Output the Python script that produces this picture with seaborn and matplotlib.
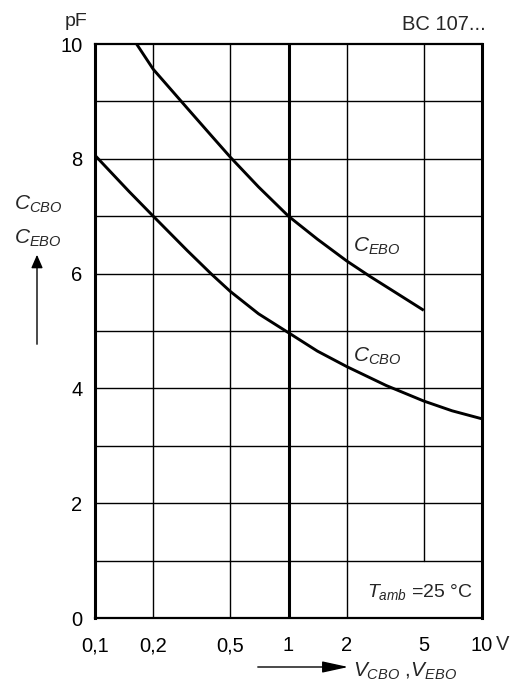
import matplotlib
matplotlib.use("Agg")
import matplotlib.pyplot as plt
import seaborn as sns
import pandas as pd
from matplotlib import font_manager

# ---- data ----
v_ebo = [0.164, 0.2, 0.3, 0.4, 0.5, 0.7, 1.0, 1.41, 2.0, 2.64, 3.5, 5.0]
c_ebo = [10.0, 9.56, 8.88, 8.40, 8.03, 7.51, 7.0, 6.60, 6.22, 5.95, 5.69, 5.36]

v_cbo = [0.1, 0.15, 0.2, 0.3, 0.4, 0.5, 0.7, 1.0, 1.41, 2.0, 3.2, 5.0, 7.0, 10.0]
c_cbo = [8.06, 7.43, 7.0, 6.40, 5.99, 5.69, 5.30, 4.97, 4.65, 4.38, 4.05, 3.78, 3.61, 3.47]

x_ticks = [0.1, 0.2, 0.5, 1, 2, 5, 10]
x_labels = ["0,1", "0,2", "0,5", "1", "2", "5", "10"]
y_ticks = [0, 2, 4, 6, 8, 10]
y_grid = [1, 2, 3, 4, 5, 6, 7, 8, 9]

sns.set_theme(style="white")
names = {f.name for f in font_manager.fontManager.ttflist}
fam = "Liberation Sans Narrow" if "Liberation Sans Narrow" in names else "Liberation Sans"
plt.rcParams["font.family"] = [fam, "DejaVu Sans"]
plt.rcParams["mathtext.fontset"] = "custom"
plt.rcParams["mathtext.rm"] = fam
plt.rcParams["mathtext.it"] = fam + ":italic"
plt.rcParams["mathtext.bf"] = fam + ":bold"

W, H = 517, 688
fig = plt.figure(figsize=(W / 100, H / 100), dpi=100)
ax = fig.add_axes([95 / W, 70 / H, (482 - 95) / W, (618 - 44) / H])

df = pd.concat([
    pd.DataFrame({"V": v_ebo, "C": c_ebo, "curve": "EBO"}),
    pd.DataFrame({"V": v_cbo, "C": c_cbo, "curve": "CBO"}),
])
sns.lineplot(data=df, x="V", y="C", units="curve", estimator=None, sort=False,
             color="black", linewidth=2.1, ax=ax, zorder=3)
for ln in ax.get_lines():
    ln.set_solid_joinstyle("round")
    ln.set_solid_capstyle("butt")

ax.set_xscale("log")
ax.set_xlim(0.1, 10)
ax.set_ylim(0, 10)
ax.set_xticks(x_ticks)
ax.set_xticklabels(x_labels)
ax.minorticks_off()
ax.set_yticks(y_ticks)
ax.set_yticklabels([str(v) for v in y_ticks])
ax.tick_params(axis="both", length=0, labelsize=14.5, colors="black")
ax.tick_params(axis="y", pad=9)
ax.tick_params(axis="x", pad=13)
ax.set_xlabel("")
ax.set_ylabel("")

# grid
for v in y_grid:
    ax.axhline(v, color="black", lw=1.0, zorder=1)
for v in x_ticks[1:-1]:
    ax.axvline(v, color="black", lw=2.2 if v == 1 else 1.0,
               ymin=0.1 if v == 5 else 0.0, zorder=1)

for side in ["left", "right"]:
    ax.spines[side].set_linewidth(2.2)
for side in ["top", "bottom"]:
    ax.spines[side].set_linewidth(1.6)
for s in ax.spines.values():
    s.set_color("black")

# "10 V" unit
ax.annotate("V", xy=(1.0, 0), xycoords="axes fraction", xytext=(10, -19),
            textcoords="offset points", ha="left", va="center", fontsize=14.5)

# curve labels
ax.text(2.15, 6.48, r"$C_{EBO}$", fontsize=15, ha="left", va="center")
ax.text(2.15, 4.55, r"$C_{CBO}$", fontsize=15, ha="left", va="center")

# ambient temperature
ax.text(0.977, 0.045, r"$T_{amb}$ =25 °C", transform=ax.transAxes,
        fontsize=14, ha="right", va="center")

# figure texts
fig.text(65 / W, 1 - 21 / H, "pF", fontsize=14, ha="left", va="center")
fig.text(486 / W, 1 - 25 / H, "BC 107...", fontsize=14.5, ha="right", va="center")
fig.text(14 / W, 1 - 204 / H, r"$C_{CBO}$", fontsize=15, ha="left", va="center")
fig.text(14 / W, 1 - 238 / H, r"$C_{EBO}$", fontsize=15, ha="left", va="center")
fig.add_artist(matplotlib.patches.FancyArrowPatch(
    (37 / W, 1 - 347 / H), (37 / W, 1 - 252 / H), transform=fig.transFigure,
    arrowstyle="-|>,head_length=8,head_width=3.5", color="black", lw=1.0,
    mutation_scale=1))
fig.add_artist(matplotlib.patches.FancyArrowPatch(
    (255 / W, 1 - 667 / H), (351 / W, 1 - 667 / H), transform=fig.transFigure,
    arrowstyle="-|>,head_length=16,head_width=3.5", color="black", lw=1.0,
    mutation_scale=1))
fig.text(353 / W, 1 - 671 / H, r"$V_{CBO}$ ,$V_{EBO}$", fontsize=15,
         ha="left", va="center")

fig.savefig("out.png", dpi=100)
